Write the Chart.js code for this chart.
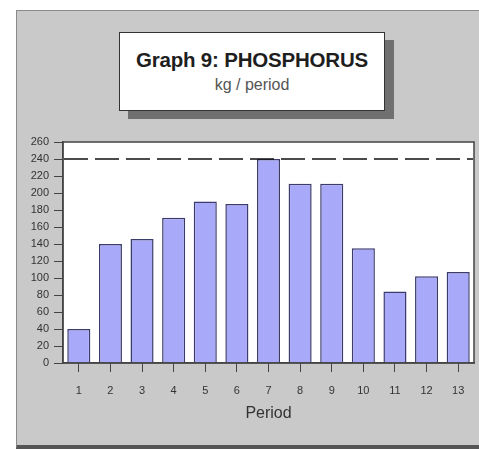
<!DOCTYPE html>
<html>
<head>
<meta charset="utf-8">
<title>Graph 9: PHOSPHORUS</title>
<script src="https://cdn.jsdelivr.net/npm/chart.js@4"></script>
<style>
  html, body { margin: 0; padding: 0; background: #fff; }
  body { width: 479px; height: 450px; position: relative; overflow: hidden; font-family: "Liberation Sans", Arial, sans-serif; }
  #panel {
    position: absolute; left: 16px; top: 10px; width: 470px; height: 434px;
    background: #c9c9c9; border-left: 1px solid #8a8a8a; border-top: 1px solid #8a8a8a;
    border-bottom: 4px solid #555;
  }
  #title-box {
    position: absolute; left: 119px; top: 32px; width: 264px; height: 77px;
    background: #fff; border: 1.5px solid #333; box-shadow: 9px 8px 0 #707070;
    text-align: center;
  }
  #title-box .t1 { font-weight: bold; font-size: 20.5px; color: #1e1e1e; margin-top: 15px; letter-spacing: -0.2px; }
  #title-box .t2 { font-size: 16px; color: #555; margin-top: 4px; }
  #chart { position: absolute; left: 0; top: 0; }
</style>
</head>
<body>
<div id="panel"></div>
<div id="title-box">
  <div class="t1">Graph 9: PHOSPHORUS</div>
  <div class="t2">kg / period</div>
</div>
<canvas id="chart" width="479" height="450"></canvas>
<script>
"use strict";

// ── 데이터 ─────────────────────────────────────────────
const periods = ["1", "2", "3", "4", "5", "6", "7", "8", "9", "10", "11", "12", "13"];
const phosphorus = [40, 140, 146, 171, 190, 187, 240, 211, 211, 135, 84, 102, 107];
const LIMIT = 240; // 점선 기준선
const Y_MAX = 260;
const Y_STEP = 20;

// 플롯 영역 흰 배경 + 테두리
const plotFrame = {
  id: "plotFrame",
  beforeDraw(chart) {
    const { ctx, chartArea: a } = chart;
    ctx.save();
    ctx.fillStyle = "#ffffff";
    ctx.fillRect(a.left, a.top, a.right - a.left, a.bottom - a.top);
    ctx.restore();
  },
  afterDraw(chart) {
    const { ctx, chartArea: a } = chart;
    ctx.save();
    ctx.strokeStyle = "#444";
    ctx.lineWidth = 1.5;
    ctx.strokeRect(a.left, a.top, a.right - a.left, a.bottom - a.top);
    ctx.restore();
  },
};

// 240 기준 점선
const limitLine = {
  id: "limitLine",
  afterDatasetsDraw(chart) {
    const { ctx, chartArea: a } = chart;
    const y = chart.scales.y.getPixelForValue(LIMIT);
    ctx.save();
    ctx.strokeStyle = "#111";
    ctx.lineWidth = 1.6;
    ctx.setLineDash([24, 7]);
    ctx.beginPath();
    ctx.moveTo(a.left + 1, y);
    ctx.lineTo(a.right - 1, y);
    ctx.stroke();
    ctx.restore();
  },
};

new Chart(document.getElementById("chart"), {
  type: "bar",
  data: {
    labels: periods,
    datasets: [{
      data: phosphorus,
      backgroundColor: "#a9a9f9",
      borderColor: "#3c3c6c",
      borderWidth: 1.5,
      categoryPercentage: 1,
      barPercentage: 0.73,
    }],
  },
  options: {
    responsive: false,
    animation: false,
    devicePixelRatio: 1,
    layout: { padding: { left: 20, top: 142, right: 5, bottom: 22 } },
    plugins: { legend: { display: false }, tooltip: { enabled: false } },
    scales: {
      x: {
        offset: true,
        grid: { offset: false, drawOnChartArea: false, drawTicks: true, tickLength: 9, color: "#444" },
        border: { display: true, color: "#444", width: 1.5 },
        ticks: { color: "#333", font: { family: "Liberation Sans", size: 11 }, padding: 12, maxRotation: 0 },
        title: { display: true, text: "Period", color: "#333", font: { family: "Liberation Sans", size: 16 }, padding: { top: 0, bottom: 5 } },
        afterFit: (s) => { s.height = 65; },
      },
      y: {
        min: 0,
        max: Y_MAX,
        grid: { drawOnChartArea: false, drawTicks: true, tickLength: 9, color: "#444" },
        border: { display: true, color: "#444", width: 1.5 },
        ticks: { stepSize: Y_STEP, color: "#333", font: { family: "Liberation Sans", size: 11 }, padding: 5 },
        afterFit: (s) => { s.width = 43; },
      },
    },
  },
  plugins: [plotFrame, limitLine],
});
</script>
</body>
</html>
